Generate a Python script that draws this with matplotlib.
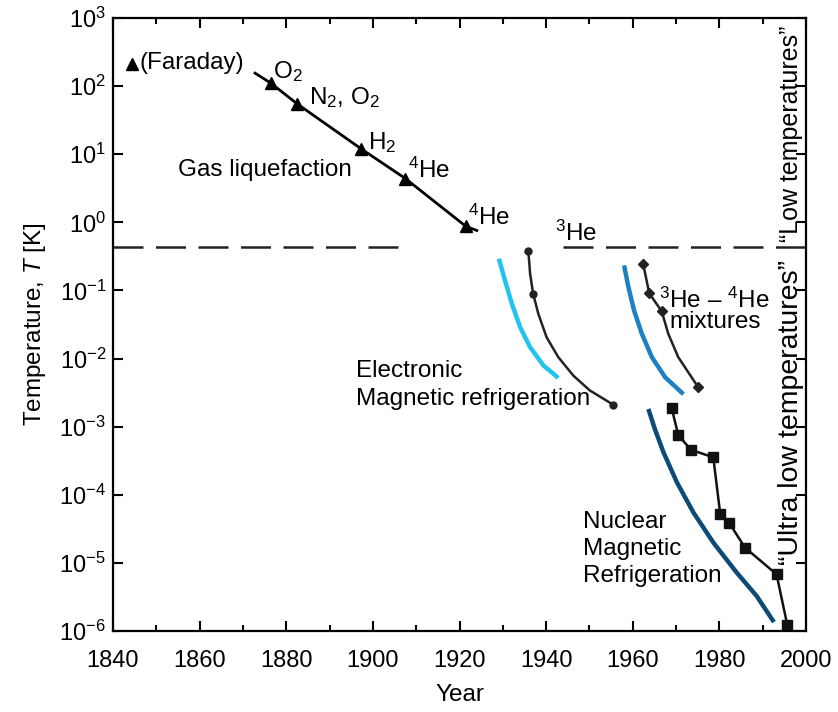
import matplotlib
matplotlib.use("Agg")
import matplotlib.pyplot as plt
from matplotlib.ticker import LogLocator, MultipleLocator, NullLocator

plt.rcParams["font.family"] = ["Liberation Sans", "DejaVu Sans"]
plt.rcParams["mathtext.fontset"] = "custom"
plt.rcParams["mathtext.rm"] = "Liberation Sans"
plt.rcParams["mathtext.it"] = "Liberation Sans:italic"

# gas liquefaction (triangles)
gas_years = [1872.8, 1876.5, 1882.5, 1897.3, 1907.5, 1921.5, 1924.0]
gas_temps = [155, 110, 55, 12, 4.4, 0.87, 0.76]
faraday_year = [1844.3]
faraday_temp = [210]

# electronic magnetic refrigeration
emr_blue_years = [1929.1, 1930.5, 1932.1, 1934.0, 1936.3, 1939.4, 1942.8]
emr_blue_temps = [0.292, 0.140, 0.0637, 0.0288, 0.0147, 0.0079, 0.0052]
emr_years = [1935.9, 1936.3, 1937.0, 1938.2, 1940.1, 1942.8, 1946.3, 1950.1, 1955.5]
emr_temps = [0.378, 0.176, 0.0894, 0.0454, 0.0206, 0.0105, 0.0056, 0.0034, 0.0021]
emr_marked = [0, 2, 8]

# 3He-4He dilution
mix_blue_years = [1958.0, 1959.0, 1960.3, 1962.1, 1964.4, 1967.5, 1971.7]
mix_blue_temps = [0.233, 0.112, 0.0508, 0.0231, 0.0105, 0.0053, 0.0030]
mix_years = [1962.4, 1963.8, 1966.7, 1968.2, 1970.5, 1975.1]
mix_temps = [0.247, 0.0912, 0.0491, 0.0231, 0.0105, 0.0038]
mix_marked = [0, 1, 2, 5]

# nuclear magnetic refrigeration
nuc_blue_years = [1963.6, 1965.1, 1967.1, 1970.2, 1974.0, 1978.6, 1984.0, 1988.6, 1992.6]
nuc_blue_temps = [1.82e-3, 9.25e-4, 4.19e-4, 1.52e-4, 5.5e-5, 1.99e-5, 7.2e-6, 3.27e-6, 1.35e-6]
nuc_years = [1969.0, 1970.5, 1973.4, 1978.6, 1980.2, 1982.3, 1985.9, 1993.2, 1995.7]
nuc_temps = [1.86e-3, 7.55e-4, 4.59e-4, 3.54e-4, 5.2e-5, 3.84e-5, 1.68e-5, 6.8e-6, 1.21e-6]

boundary_temp = 0.43

fig = plt.figure(figsize=(8.38, 7.12), dpi=100)
ax = fig.add_axes([113 / 838, 1 - 631 / 712, 693 / 838, 613 / 712])
ax.set_yscale("log")
ax.set_xlim(1840, 2000)
ax.set_ylim(1e-6, 1e3)

ax.plot(gas_years, gas_temps, color="black", lw=2)
ax.plot(gas_years[1:-1], gas_temps[1:-1], ls="none", marker="^", ms=9, color="black")
ax.plot(faraday_year, faraday_temp, ls="none", marker="^", ms=8, color="black")

ax.plot(emr_blue_years, emr_blue_temps, color="#22c4ef", lw=3.2,
        solid_capstyle="butt", solid_joinstyle="round")
ax.plot(emr_years, emr_temps, color="#222222", lw=1.8, solid_joinstyle="round",
        marker="o", ms=5, markevery=emr_marked)

ax.plot(mix_blue_years, mix_blue_temps, color="#1c80c2", lw=3.2,
        solid_capstyle="butt", solid_joinstyle="round")
ax.plot(mix_years, mix_temps, color="#222222", lw=1.8, solid_joinstyle="round",
        marker="D", ms=5, markevery=mix_marked)

ax.plot(nuc_blue_years, nuc_blue_temps, color="#0c4b76", lw=3.2,
        solid_capstyle="butt", solid_joinstyle="round")
ax.plot(nuc_years, nuc_temps, color="#111111", lw=1.8, marker="s", ms=6.5)

for x0, x1 in [(1840, 1906.5), (1944, 2000)]:
    ax.plot([x0, x1], [boundary_temp, boundary_temp], color="#222222", lw=1.8,
            dashes=(12, 5))

fs = 17.5
ax.text(1846.2, 219, "(Faraday)", fontsize=fs, va="center")
ax.text(1877, 162, "O$_2$", fontsize=fs, va="center")
ax.text(1885.3, 69, "N$_2$, O$_2$", fontsize=fs, va="center")
ax.text(1898.9, 15, "H$_2$", fontsize=fs, va="center")
ax.text(1908.1, 5.8, "$^4$He", fontsize=fs, va="center")
ax.text(1922, 1.17, "$^4$He", fontsize=fs, va="center")
ax.text(1855.0, 5.8, "Gas liquefaction", fontsize=fs, va="center")
ax.text(1942, 0.69, "$^3$He", fontsize=fs, va="center")
ax.text(1966.0, 0.0713, "$^3$He – $^4$He", fontsize=fs, va="center")
ax.text(1968.4, 0.0345, "mixtures", fontsize=fs, va="center")
ax.text(1896.1, 4.1e-3, "Electronic\nMagnetic refrigeration", fontsize=fs,
        va="center", linespacing=1.35)
ax.text(1948.5, 1.6e-5, "Nuclear\nMagnetic\nRefrigeration", fontsize=fs,
        va="center", linespacing=1.3)
ax.text(1996.6, 20, "\u201cLow temperatures\u201d", fontsize=18, rotation=90,
        ha="center", va="center")
ax.text(1996.6, 1.6e-3, "\u201cUltra low temperatures\u201d", fontsize=20.5,
        rotation=90, ha="center", va="center")

ax.xaxis.set_major_locator(MultipleLocator(20))
ax.xaxis.set_minor_locator(MultipleLocator(10))
ax.yaxis.set_major_locator(LogLocator(base=10, numticks=20))
ax.yaxis.set_minor_locator(NullLocator())
ax.tick_params(which="both", direction="in", top=True, right=True, width=1.5,
               labelsize=17)
ax.tick_params(which="major", length=7)
ax.tick_params(which="minor", length=4)
ax.tick_params(axis="x", which="major", pad=14)
ax.tick_params(axis="y", which="major", pad=5)
for s in ax.spines.values():
    s.set_linewidth(1.6)

ax.set_xlabel("Year", fontsize=17.5, labelpad=8)
ax.set_ylabel("Temperature, $T$ [K]", fontsize=17.5, labelpad=8)

fig.savefig("out.png", dpi=100)
plt.close()
